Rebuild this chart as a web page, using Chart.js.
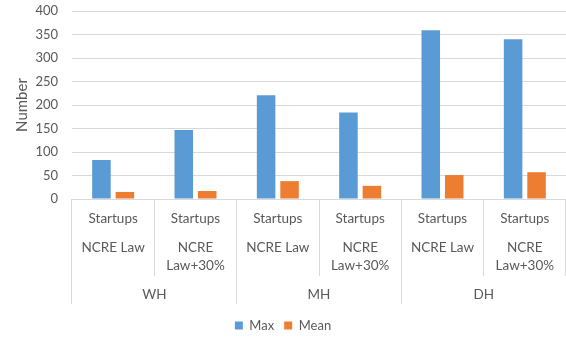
<!DOCTYPE html>
<html>
<head>
<meta charset="utf-8">
<script src="https://cdn.jsdelivr.net/npm/chart.js@4.4.0/dist/chart.umd.min.js"></script>
<style>
html, body { margin: 0; padding: 0; background: #fff; }
#wrap { width: 566px; height: 337px; }
</style>
</head>
<body>
<div id="wrap"><canvas id="chart"></canvas></div>
<script>
// category levels, inner to outer
const sectors = ['Startups', 'Startups', 'Startups', 'Startups', 'Startups', 'Startups'];
const scenarios = ['NCRE Law', ['NCRE', 'Law+30%'], 'NCRE Law', ['NCRE', 'Law+30%'], 'NCRE Law', ['NCRE', 'Law+30%']];
const regions = ['WH', 'MH', 'DH'];

const maxValues = [83, 147, 221, 184, 359, 340];
const meanValues = [15, 17, 38, 28, 51, 57];

const yTicks = { min: 0, max: 400, step: 50 };

const textColor = '#595959';
const gridColor = '#d9d9d9';
const fontFamily = 'Lato, "Liberation Sans", sans-serif';
const tickSize = 13.5;

// one level of the bottom axis: box height, separator length, label centre below its top
function levelAxis(labels, weight, height, lineLen, labelCenter, lineHeight) {
    return {
        type: 'category',
        position: 'bottom',
        labels: labels,
        weight: weight,
        offset: true,
        afterFit: (s) => { s.height = height; },
        grid: {
            drawOnChartArea: false,
            color: gridColor,
            tickLength: lineLen,
            offset: true
        },
        border: { display: false },
        ticks: {
            color: textColor,
            font: { family: fontFamily, size: tickSize, lineHeight: lineHeight },
            maxRotation: 0,
            autoSkip: false,
            padding: labelCenter - lineLen - tickSize * lineHeight / 2
        }
    };
}

new Chart(document.getElementById('chart'), {
    type: 'bar',
    data: {
        labels: sectors,
        datasets: [
            { label: 'Max', data: maxValues, backgroundColor: '#5B9BD5', xAxisID: 'x' },
            { label: 'Mean', data: meanValues, backgroundColor: '#ED7D31', xAxisID: 'x' }
        ]
    },
    options: {
        responsive: true,
        maintainAspectRatio: false,
        animation: false,
        categoryPercentage: 0.57,
        barPercentage: 0.79,
        layout: { padding: { top: 11, right: 0, bottom: -5, left: 0 } },
        plugins: {
            legend: {
                position: 'bottom',
                labels: {
                    boxWidth: 8,
                    boxHeight: 8,
                    padding: 10,
                    color: textColor,
                    font: { family: fontFamily, size: 13 }
                }
            },
            tooltip: { enabled: false }
        },
        scales: {
            y: {
                min: yTicks.min,
                max: yTicks.max,
                afterFit: (s) => { s.width = 72; },
                ticks: {
                    stepSize: yTicks.step,
                    color: textColor,
                    padding: 0,
                    font: { family: fontFamily, size: 13 }
                },
                grid: { color: gridColor, tickLength: 14, tickColor: 'rgba(0,0,0,0)' },
                border: { display: false },
                title: {
                    display: true,
                    text: 'Number',
                    color: textColor,
                    padding: { top: 13, bottom: 0 },
                    font: { family: fontFamily, size: 15 }
                }
            },
            x: levelAxis(sectors, 0, 34, 34, 19.3, 1.2),
            x1: levelAxis(scenarios, 1, 43, 43, 14.7, 1.32),
            x2: levelAxis(regions, 2, 33, 28, 18.3, 1.2)
        }
    }
});
</script>
</body>
</html>
